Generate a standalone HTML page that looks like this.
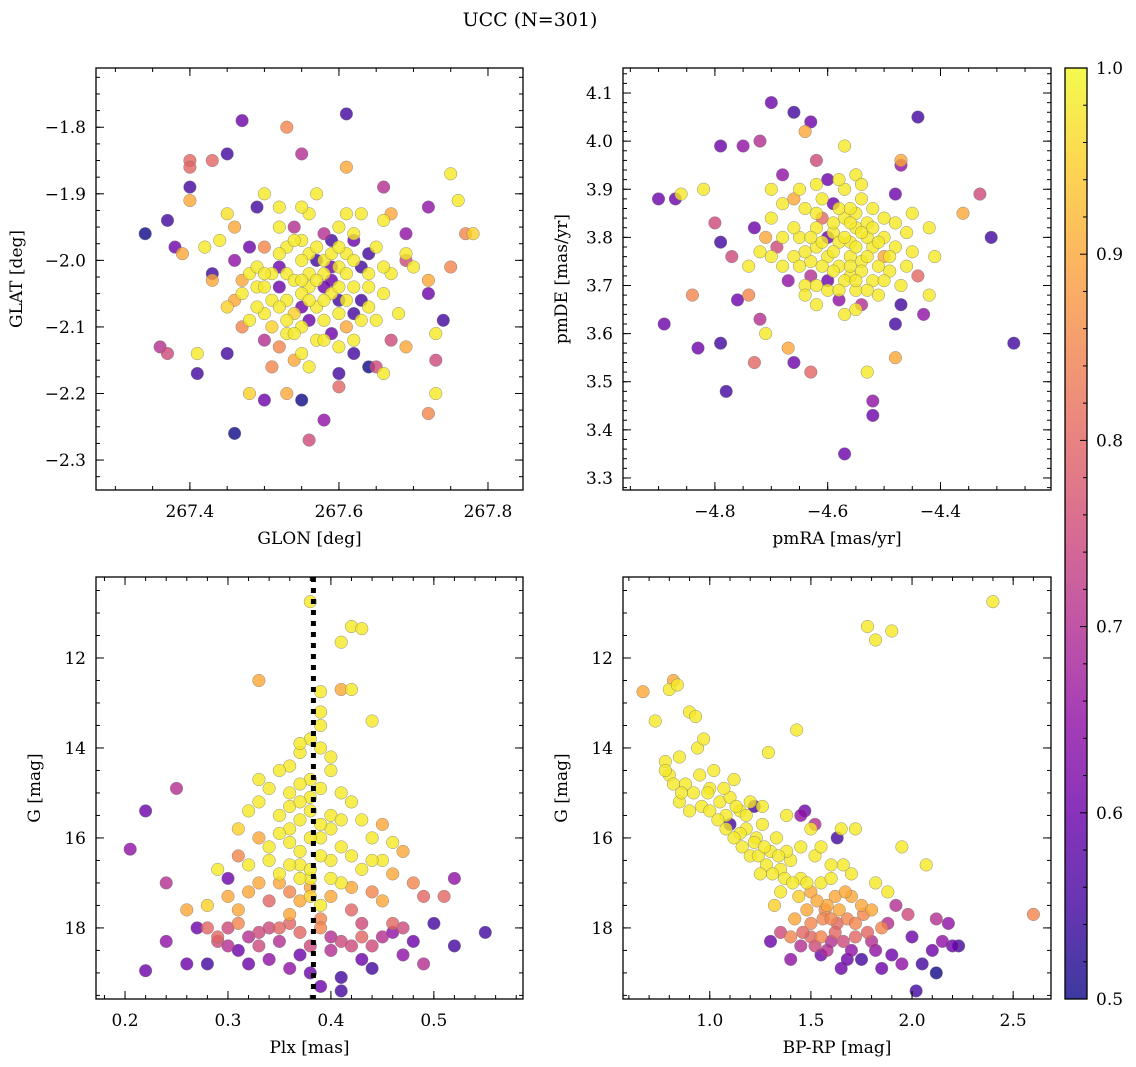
<!DOCTYPE html>
<html><head><meta charset="utf-8"><style>
html,body{margin:0;padding:0;background:#fff}
svg{display:block;font-family:"DejaVu Serif","Liberation Serif",serif}
</style></head><body>
<svg id="fig" width="1136" height="1067" viewBox="0 0 1136 1067" xmlns="http://www.w3.org/2000/svg">
<defs><linearGradient id="cbg" x1="0" y1="1" x2="0" y2="0"></linearGradient></defs>
<text x="530" y="26" font-size="19" text-anchor="middle">UCC (N=301)</text>
</svg>
<script>
// ---- data: [x, y, probability] ----
const glonGlat = [[267.34,-1.96,0.5],[267.37,-1.94,0.55],[267.36,-2.13,0.7],[267.37,-2.14,0.75],[267.40,-1.85,0.8],[267.40,-1.86,0.8],[267.40,-1.89,0.55],[267.40,-1.91,0.9],[267.43,-1.85,0.8],[267.45,-1.84,0.55],[267.47,-1.79,0.6],[267.41,-2.17,0.55],[267.41,-2.14,0.98],[267.45,-2.14,0.55],[267.46,-2.26,0.5],[267.48,-2.20,0.95],[267.50,-2.21,0.6],[267.53,-1.80,0.85],[267.55,-1.84,0.7],[267.61,-1.78,0.55],[267.61,-1.86,0.9],[267.55,-2.21,0.5],[267.53,-2.20,0.9],[267.56,-2.27,0.75],[267.58,-2.24,0.65],[267.60,-2.19,0.8],[267.66,-1.89,0.7],[267.72,-1.92,0.65],[267.75,-1.87,0.98],[267.76,-1.91,0.98],[267.78,-1.96,0.95],[267.77,-1.96,0.85],[267.72,-2.03,0.9],[267.72,-2.05,0.6],[267.75,-2.01,0.85],[267.74,-2.09,0.55],[267.73,-2.11,0.98],[267.73,-2.15,0.75],[267.72,-2.23,0.85],[267.73,-2.20,0.98],[267.69,-1.96,0.65],[267.69,-2.00,0.75],[267.69,-2.13,0.9],[267.64,-2.16,0.5],[267.62,-2.14,0.55],[267.60,-2.17,0.55],[267.65,-2.16,0.75],[267.67,-2.12,0.75],[267.66,-2.17,0.98],
[267.50,-1.90,0.98],[267.52,-1.92,0.98],[267.49,-1.92,0.55],[267.45,-1.93,0.97],[267.46,-1.95,0.9],[267.44,-1.97,0.98],[267.42,-1.98,0.98],[267.39,-1.99,0.9],[267.38,-1.98,0.6],[267.43,-2.02,0.55],[267.43,-2.03,0.9],[267.45,-2.07,0.95],[267.46,-2.06,0.9],[267.47,-2.05,0.98],[267.48,-2.02,0.98],[267.49,-2.04,0.98],[267.50,-2.08,0.98],[267.51,-2.10,0.95],[267.52,-2.01,0.6],[267.53,-1.98,0.98],[267.54,-1.95,0.7],[267.55,-1.97,0.98],[267.56,-1.99,0.98],[267.57,-2.00,0.55],[267.58,-2.02,0.98],[267.59,-2.03,0.6],[267.60,-2.01,0.98],[267.61,-1.99,0.98],[267.62,-2.04,0.98],[267.63,-2.06,0.55],[267.64,-2.02,0.98],[267.65,-1.98,0.98],[267.66,-1.94,0.98],[267.67,-1.93,0.9],[267.63,-1.93,0.98],[267.60,-1.95,0.98],[267.58,-1.96,0.7],[267.56,-2.04,0.98],[267.55,-2.05,0.98],[267.54,-2.08,0.95],[267.53,-2.06,0.98],[267.52,-2.04,0.6],[267.51,-2.02,0.98],[267.57,-2.07,0.98],[267.58,-2.09,0.98],[267.59,-2.11,0.6],[267.60,-2.08,0.98],[267.61,-2.10,0.9],[267.62,-2.12,0.98],[267.57,-2.12,0.98],[267.55,-2.14,0.98],[267.54,-2.15,0.9],[267.52,-2.13,0.85],[267.50,-2.12,0.7],[267.48,-2.09,0.98],[267.47,-2.10,0.85],[267.59,-1.97,0.55],[267.62,-1.97,0.6],[267.65,-2.09,0.98],[267.68,-2.08,0.98],[267.66,-2.05,0.98],[267.67,-2.02,0.98],[267.70,-2.01,0.98],[267.69,-1.99,0.98],[267.64,-1.99,0.55],[267.53,-2.02,0.98],[267.56,-2.02,0.98],[267.59,-2.05,0.98],[267.61,-2.06,0.98],[267.58,-2.00,0.98],[267.55,-2.00,0.98],[267.50,-1.98,0.85],[267.48,-1.98,0.6],[267.46,-2.00,0.65],[267.47,-2.03,0.9],
[267.54,-2.03,0.98],[267.55,-2.03,0.98],[267.57,-2.03,0.98],[267.58,-2.04,0.6],[267.60,-2.04,0.98],[267.61,-2.02,0.98],[267.62,-2.00,0.98],[267.63,-2.01,0.55],[267.64,-2.04,0.98],[267.56,-2.06,0.98],[267.58,-2.06,0.98],[267.60,-2.06,0.55],[267.57,-1.98,0.98],[267.59,-1.99,0.98],[267.60,-1.98,0.98],[267.62,-1.96,0.98],[267.54,-1.97,0.98],[267.52,-1.99,0.98],[267.51,-2.06,0.98],[267.50,-2.04,0.98],[267.49,-2.07,0.98],[267.53,-2.09,0.98],[267.55,-2.10,0.98],[267.56,-2.09,0.6],[267.58,-2.12,0.98],[267.60,-2.13,0.98],[267.63,-2.09,0.98],[267.64,-2.07,0.98],[267.66,-2.01,0.98],[267.61,-1.93,0.98],[267.56,-1.93,0.98],[267.55,-1.92,0.98],[267.57,-1.90,0.98],[267.52,-1.95,0.98],[267.49,-2.01,0.98],[267.50,-2.02,0.98],[267.52,-2.07,0.98],[267.53,-2.11,0.98],[267.56,-2.16,0.98],[267.54,-2.11,0.98],[267.51,-2.16,0.85],[267.62,-2.08,0.55],[267.59,-2.01,0.6],[267.55,-2.07,0.6]];
const pmraPmde = [[-4.90,3.88,0.6],[-4.87,3.88,0.6],[-4.86,3.89,0.98],[-4.82,3.90,0.98],[-4.79,3.99,0.6],[-4.75,3.99,0.65],[-4.72,4.00,0.7],[-4.70,4.08,0.6],[-4.66,4.06,0.55],[-4.63,4.04,0.6],[-4.64,4.02,0.9],[-4.62,3.96,0.75],[-4.57,3.99,0.98],[-4.44,4.05,0.55],[-4.47,3.96,0.9],[-4.47,3.95,0.65],[-4.33,3.89,0.75],[-4.36,3.85,0.9],[-4.31,3.80,0.55],[-4.27,3.58,0.55],[-4.42,3.68,0.98],[-4.43,3.64,0.65],[-4.48,3.55,0.9],[-4.48,3.62,0.55],[-4.47,3.66,0.55],[-4.53,3.52,0.98],[-4.52,3.46,0.65],[-4.52,3.43,0.6],[-4.57,3.35,0.6],[-4.66,3.54,0.6],[-4.63,3.52,0.8],[-4.67,3.57,0.9],[-4.71,3.60,0.98],[-4.73,3.54,0.8],[-4.78,3.48,0.55],[-4.79,3.58,0.55],[-4.83,3.57,0.6],[-4.89,3.62,0.6],[-4.84,3.68,0.85],[-4.76,3.67,0.6],[-4.74,3.68,0.85],[-4.72,3.63,0.7],[-4.79,3.79,0.55],[-4.80,3.83,0.75],[-4.77,3.76,0.75],[-4.73,3.82,0.6],[-4.71,3.80,0.9],[-4.70,3.90,0.98],[-4.68,3.93,0.65],[-4.66,3.88,0.9],[-4.60,3.92,0.6],[-4.55,3.93,0.98],[-4.48,3.89,0.6],[-4.45,3.85,0.98],[-4.42,3.82,0.98],[-4.41,3.76,0.98],[-4.44,3.72,0.8],[-4.46,3.74,0.98],
[-4.65,3.80,0.98],[-4.62,3.78,0.98],[-4.60,3.76,0.98],[-4.58,3.74,0.98],[-4.56,3.72,0.98],[-4.54,3.75,0.98],[-4.52,3.78,0.98],[-4.50,3.80,0.98],[-4.55,3.82,0.98],[-4.57,3.84,0.98],[-4.59,3.81,0.98],[-4.61,3.74,0.98],[-4.63,3.72,0.7],[-4.64,3.70,0.98],[-4.60,3.69,0.98],[-4.58,3.67,0.65],[-4.55,3.69,0.98],[-4.52,3.71,0.98],[-4.49,3.73,0.98],[-4.50,3.76,0.9],[-4.53,3.83,0.98],[-4.55,3.85,0.98],[-4.58,3.86,0.98],[-4.61,3.84,0.8],[-4.66,3.76,0.98],[-4.68,3.74,0.98],[-4.69,3.78,0.75],[-4.67,3.71,0.65],[-4.62,3.66,0.98],[-4.57,3.64,0.98],[-4.54,3.66,0.7],[-4.51,3.68,0.98],[-4.47,3.70,0.98],[-4.48,3.78,0.98],[-4.46,3.81,0.98],[-4.54,3.88,0.98],[-4.57,3.90,0.98],[-4.61,3.88,0.98],[-4.64,3.86,0.98],[-4.70,3.84,0.98],[-4.72,3.77,0.98],[-4.74,3.74,0.98],[-4.58,3.79,0.98],[-4.56,3.79,0.98],[-4.53,3.80,0.98],[-4.60,3.71,0.6],[-4.63,3.75,0.98],[-4.56,3.76,0.98],
[-4.57,3.80,0.98],[-4.55,3.78,0.98],[-4.53,3.76,0.98],[-4.51,3.74,0.98],[-4.59,3.77,0.98],[-4.61,3.79,0.98],[-4.56,3.74,0.98],[-4.54,3.73,0.98],[-4.57,3.71,0.98],[-4.59,3.73,0.98],[-4.52,3.82,0.98],[-4.54,3.81,0.98],[-4.56,3.83,0.98],[-4.59,3.83,0.98],[-4.60,3.80,0.6],[-4.62,3.82,0.98],[-4.63,3.80,0.98],[-4.64,3.77,0.98],[-4.65,3.74,0.98],[-4.62,3.70,0.98],[-4.55,3.71,0.98],[-4.53,3.69,0.98],[-4.50,3.71,0.98],[-4.49,3.76,0.98],[-4.51,3.79,0.98],[-4.56,3.86,0.98],[-4.59,3.87,0.6],[-4.52,3.86,0.98],[-4.50,3.84,0.98],[-4.66,3.82,0.98],[-4.68,3.80,0.98],[-4.70,3.76,0.98],[-4.62,3.85,0.98],[-4.58,3.69,0.98],[-4.64,3.68,0.98],[-4.55,3.65,0.98],[-4.48,3.83,0.98],[-4.45,3.77,0.98],[-4.58,3.92,0.98],[-4.65,3.90,0.98],[-4.68,3.87,0.98],[-4.62,3.91,0.98],[-4.54,3.91,0.98]];
const plxG = [[0.38,10.75,0.98],[0.42,11.3,0.98],[0.43,11.35,0.98],[0.41,11.65,0.98],[0.33,12.5,0.9],[0.41,12.7,0.9],[0.42,12.7,0.98],[0.39,12.75,0.98],[0.39,13.2,0.98],[0.44,13.4,0.98],[0.39,13.5,0.98],[0.38,13.8,0.98],[0.37,14.1,0.98],[0.39,14.0,0.98],[0.36,14.4,0.98],[0.35,14.5,0.98],[0.40,14.5,0.98],[0.33,14.7,0.98],[0.34,14.9,0.98],[0.36,15.0,0.98],[0.38,15.1,0.98],[0.41,15.0,0.98],[0.42,15.2,0.98],[0.32,15.4,0.98],[0.35,15.5,0.98],[0.37,15.6,0.98],[0.40,15.5,0.98],[0.43,15.6,0.98],[0.45,15.7,0.9],[0.31,15.8,0.95],[0.33,16.0,0.9],[0.36,16.1,0.98],[0.39,16.0,0.98],[0.41,16.2,0.98],[0.44,16.0,0.98],[0.47,16.3,0.9],[0.29,16.7,0.98],[0.31,16.4,0.85],[0.34,16.5,0.98],[0.37,16.6,0.98],[0.40,16.5,0.98],[0.43,16.7,0.98],[0.45,16.5,0.98],[0.46,16.8,0.9],[0.30,16.9,0.6],[0.32,17.2,0.9],[0.35,17.0,0.9],[0.38,17.3,0.95],[0.41,17.0,0.98],[0.44,17.2,0.85],[0.48,17.0,0.85],[0.28,17.5,0.95],[0.31,17.6,0.9],[0.34,17.4,0.8],[0.36,17.7,0.9],[0.39,17.5,0.98],[0.42,17.6,0.8],[0.45,17.4,0.9],[0.49,17.3,0.8],[0.51,17.3,0.8],[0.26,17.6,0.9],[0.24,17.0,0.7],[0.25,14.9,0.7],[0.22,15.4,0.6],[0.205,16.25,0.65],[0.27,18.0,0.6],[0.29,18.2,0.8],[0.31,18.5,0.6],[0.33,18.1,0.75],[0.35,18.3,0.7],[0.37,18.6,0.6],[0.40,18.2,0.7],[0.42,18.4,0.75],[0.44,18.9,0.55],[0.46,18.1,0.65],[0.48,18.3,0.6],[0.50,17.9,0.55],[0.52,18.4,0.55],[0.55,18.1,0.55],[0.52,16.9,0.65],[0.22,18.95,0.6],[0.24,18.3,0.65],[0.26,18.8,0.6],[0.28,18.8,0.55],[0.30,18.4,0.7],[0.32,18.8,0.6],[0.36,18.9,0.65],[0.38,19.0,0.6],[0.39,19.3,0.6],[0.41,19.4,0.55],[0.41,19.1,0.55],[0.43,18.7,0.6],[0.45,18.2,0.7],[0.47,18.6,0.65],[0.49,18.8,0.7],[0.34,18.7,0.65],[0.30,18.0,0.75],[0.36,17.9,0.8],[0.39,17.8,0.85],[0.43,17.9,0.75],[0.38,16.9,0.98],[0.37,16.3,0.98],[0.40,15.8,0.98],[0.38,14.7,0.98],[0.36,15.3,0.98],
[0.37,14.8,0.98],[0.39,14.9,0.98],[0.38,15.4,0.98],[0.37,15.2,0.98],[0.39,15.7,0.98],[0.36,15.8,0.98],[0.38,16.0,0.98],[0.37,16.9,0.98],[0.39,16.4,0.98],[0.36,16.6,0.98],[0.38,16.7,0.98],[0.40,16.9,0.98],[0.35,16.8,0.98],[0.34,16.2,0.98],[0.42,16.4,0.98],[0.41,15.6,0.98],[0.35,15.9,0.98],[0.33,15.2,0.98],[0.40,14.2,0.98],[0.37,13.9,0.98],[0.38,17.1,0.9],[0.37,17.4,0.9],[0.36,17.2,0.85],[0.40,17.3,0.9],[0.42,17.1,0.9],[0.33,17.0,0.9],[0.39,18.0,0.85],[0.37,18.1,0.8],[0.40,18.5,0.7],[0.35,18.0,0.8],[0.33,18.4,0.75],[0.32,18.2,0.7],[0.29,18.3,0.75],[0.28,18.0,0.8],[0.41,18.3,0.75],[0.43,18.2,0.8],[0.44,18.4,0.75],[0.38,18.4,0.75],[0.34,18.0,0.75],[0.31,17.9,0.85],[0.46,17.9,0.8],[0.47,18.0,0.75],[0.30,17.3,0.9],[0.44,16.5,0.98],[0.46,16.1,0.98],[0.32,16.6,0.98]];
const bprpG = [[0.67,12.75,0.9],[0.80,12.7,0.98],[0.82,12.5,0.9],[0.84,12.6,0.98],[0.73,13.4,0.98],[0.78,14.3,0.98],[0.80,14.6,0.98],[0.85,14.2,0.98],[0.88,14.8,0.98],[0.90,13.2,0.98],[0.93,13.3,0.98],[0.94,14.0,0.98],[0.97,13.8,0.98],[1.0,14.9,0.98],[1.02,14.5,0.98],[1.05,15.2,0.98],[1.08,15.5,0.98],[1.10,15.1,0.98],[1.12,14.7,0.98],[1.15,15.4,0.98],[1.18,15.8,0.98],[1.20,15.2,0.98],[1.23,16.0,0.98],[1.26,15.7,0.98],[1.29,14.1,0.98],[1.30,16.3,0.98],[1.33,16.0,0.98],[1.35,16.7,0.98],[1.38,15.5,0.98],[1.40,16.5,0.98],[1.43,13.6,0.98],[1.45,16.9,0.98],[1.47,15.4,0.6],[1.50,17.2,0.9],[1.52,16.4,0.98],[1.55,17.0,0.98],[1.57,17.6,0.85],[1.60,16.6,0.98],[1.62,17.3,0.9],[1.65,15.8,0.98],[1.68,17.8,0.85],[1.70,16.8,0.98],[1.72,15.8,0.98],[1.75,17.5,0.9],[1.78,11.3,0.98],[1.82,11.6,0.98],[1.90,11.4,0.98],[2.40,10.75,0.98],[1.82,17.0,0.98],[1.85,18.0,0.85],[1.88,17.2,0.98],[1.95,16.2,0.98],[2.07,16.6,0.98],[2.60,17.7,0.85],[1.30,18.3,0.6],[1.35,18.1,0.75],[1.40,18.7,0.65],[1.45,18.4,0.7],[1.50,18.2,0.8],[1.55,18.6,0.6],[1.60,18.3,0.7],[1.65,18.9,0.6],[1.70,18.5,0.65],[1.75,18.7,0.55],[1.80,18.3,0.7],[1.85,18.9,0.6],[1.90,18.6,0.6],[1.95,18.8,0.65],[2.00,18.2,0.6],[2.02,19.4,0.55],[2.05,18.8,0.55],[2.10,18.5,0.6],[2.12,19.0,0.5],[2.15,18.3,0.65],[2.20,18.4,0.6],[2.23,18.4,0.55],[2.18,17.9,0.65],[2.12,17.8,0.7],[1.98,17.7,0.75],[1.92,17.5,0.7],[1.88,17.9,0.7],[1.63,16.0,0.55],[1.52,15.7,0.7],[1.45,15.5,0.65],[1.22,15.3,0.55],[1.10,15.7,0.55],[1.35,17.2,0.98],[1.42,17.8,0.9],[1.50,17.9,0.85],[1.58,17.5,0.9],[1.63,17.9,0.8],[1.70,17.3,0.9],[1.78,18.1,0.8],[1.28,16.6,0.98],[1.20,16.4,0.98],[1.15,15.9,0.98],[0.95,14.6,0.98],[0.85,15.2,0.98],[0.90,15.4,0.98],[1.25,16.8,0.98],[1.32,17.5,0.95],[1.38,16.3,0.98],
[0.78,14.5,0.98],[0.82,14.8,0.98],[0.86,15.0,0.98],[0.92,15.0,0.98],[0.96,15.3,0.98],[1.00,15.4,0.98],[1.04,15.6,0.98],[1.08,15.8,0.98],[1.12,16.0,0.98],[1.16,16.2,0.98],[1.18,15.5,0.98],[1.22,16.1,0.98],[1.24,16.4,0.98],[1.27,16.2,0.98],[1.31,16.8,0.98],[1.34,16.4,0.98],[1.37,16.9,0.98],[1.41,17.0,0.98],[1.44,17.3,0.95],[1.48,17.0,0.98],[1.48,17.6,0.9],[1.53,17.4,0.9],[1.56,17.8,0.85],[1.60,17.8,0.85],[1.64,17.6,0.9],[1.67,17.2,0.9],[1.72,17.9,0.85],[1.76,17.7,0.85],[1.80,17.6,0.9],[1.55,18.2,0.85],[1.62,18.1,0.8],[1.66,18.3,0.75],[1.72,18.2,0.8],[1.58,18.5,0.7],[1.68,18.7,0.6],[1.82,18.5,0.65],[1.52,18.4,0.75],[1.46,18.1,0.8],[1.40,18.2,0.85],[1.13,15.3,0.98],[1.07,14.9,0.98],[0.99,15.0,0.98],[1.26,15.3,0.98],[1.45,16.2,0.98],[1.55,16.2,0.98],[1.50,15.8,0.98],[1.60,16.9,0.98],[1.66,16.6,0.98]];
const plxLine = 0.383;
const xTicks1 = [267.4,267.6,267.8], yTicks1 = [-1.8,-1.9,-2.0,-2.1,-2.2,-2.3];
const xTicks2 = [-4.8,-4.6,-4.4], yTicks2 = [4.1,4.0,3.9,3.8,3.7,3.6,3.5,3.4,3.3];
const xTicks3 = [0.2,0.3,0.4,0.5], yTicks3 = [12,14,16,18];
const xTicks4 = [1.0,1.5,2.0,2.5], yTicks4 = [12,14,16,18];
const cbTicks = [0.5,0.6,0.7,0.8,0.9,1.0];

const NS = "http://www.w3.org/2000/svg";
const svg = document.getElementById('fig');
function mk(tag, attrs, parent){const e=document.createElementNS(NS,tag);for(const k in attrs)e.setAttribute(k,attrs[k]);(parent||svg).appendChild(e);return e;}
const plasma=[[13,8,135],[65,4,157],[106,0,168],[143,13,164],[177,42,144],[204,71,120],[225,100,98],[242,132,75],[252,166,54],[252,206,37],[240,249,33]];
function cmap(p){let t=(p-0.5)/0.5;t=Math.max(0,Math.min(1,t));const f=t*10,i=Math.min(9,Math.floor(f)),u=f-i;const a=plasma[i],b=plasma[i+1];return `rgb(${Math.round(a[0]+(b[0]-a[0])*u)},${Math.round(a[1]+(b[1]-a[1])*u)},${Math.round(a[2]+(b[2]-a[2])*u)})`;}
function fmt(v,d){return (v<0?'\u2212':'')+Math.abs(v).toFixed(d);}

const FS=17;
const panels=[
 {name:'glon-glat',data:glonGlat,x0:96,x1:523,y0:68,y1:490,xd:[267.274,267.847],yd:[-1.711,-2.345],xt:xTicks1,yt:yTicks1,xm:0.05,ym:0.025,xdec:1,ydec:1,xl:'GLON [deg]',yl:'GLAT [deg]',ylx:22},
 {name:'pmra-pmde',data:pmraPmde,x0:623,x1:1051,y0:68,y1:490,xd:[-4.963,-4.204],yd:[4.152,3.275],xt:xTicks2,yt:yTicks2,xm:0.05,ym:0.02,xdec:1,ydec:1,xl:'pmRA [mas/yr]',yl:'pmDE [mas/yr]',ylx:567},
 {name:'plx-g',data:plxG,x0:96,x1:523,y0:577,y1:999,xd:[0.1718,0.5866],yd:[10.2,19.58],xt:xTicks3,yt:yTicks3,xm:0.02,ym:0.5,xdec:1,ydec:0,xl:'Plx [mas]',yl:'G [mag]',ylx:40},
 {name:'bprp-g',data:bprpG,x0:623,x1:1051,y0:577,y1:999,xd:[0.571,2.687],yd:[10.2,19.58],xt:xTicks4,yt:yTicks4,xm:0.1,ym:0.5,xdec:1,ydec:0,xl:'BP-RP [mag]',yl:'G [mag]',ylx:567}
];
panels.forEach(P=>{
 const sx=v=>P.x0+(v-P.xd[0])/(P.xd[1]-P.xd[0])*(P.x1-P.x0);
 const sy=v=>P.y0+(v-P.yd[0])/(P.yd[1]-P.yd[0])*(P.y1-P.y0);
 const g=mk('g',{});
 
 
 const cp='cp-'+P.name;
 const c=mk('clipPath',{id:cp},g);mk('rect',{x:P.x0,y:P.y0,width:P.x1-P.x0,height:P.y1-P.y0},c);
 const pts=mk('g',{'clip-path':`url(#${cp})`},g);
 
 
 const sorted=P.data.slice().sort((a,b)=>a[2]-b[2]);
 sorted.forEach(d=>{
  const e=mk('circle',{cx:sx(d[0]).toFixed(1),cy:sy(d[1]).toFixed(1),r:6.3,fill:cmap(d[2]),'fill-opacity':0.8,stroke:'#777','stroke-width':0.5,'stroke-opacity':0.8},pts);
  
  
 });
 if(P.name==='plx-g'){
  const l=mk('line',{x1:sx(plxLine),x2:sx(plxLine),y1:P.y0,y2:P.y1,stroke:'#000','stroke-width':5,'stroke-dasharray':'5 6'},pts);
  
  
 }
 const tk=mk('g',{stroke:'#000','stroke-width':1},g);
 
 
 const xs=Math.ceil(Math.min(...P.xd)/P.xm), xe=Math.floor(Math.max(...P.xd)/P.xm);
 for(let i=xs;i<=xe;i++){const x=sx(i*P.xm);mk('line',{x1:x,x2:x,y1:P.y1,y2:P.y1-4},tk);mk('line',{x1:x,x2:x,y1:P.y0,y2:P.y0+4},tk);}
 const ys=Math.ceil(Math.min(...P.yd)/P.ym), ye=Math.floor(Math.max(...P.yd)/P.ym);
 for(let i=ys;i<=ye;i++){const y=sy(i*P.ym);mk('line',{x1:P.x0,x2:P.x0+4,y1:y,y2:y},tk);mk('line',{x1:P.x1,x2:P.x1-4,y1:y,y2:y},tk);}
 P.xt.forEach(v=>{const x=sx(v);mk('line',{x1:x,x2:x,y1:P.y1,y2:P.y1-8},tk);mk('line',{x1:x,x2:x,y1:P.y0,y2:P.y0+8},tk);
  const t=mk('text',{x:x,y:P.y1+27,'font-size':FS,'text-anchor':'middle'},g);t.textContent=fmt(v,P.xdec);
  
  });
 P.yt.forEach(v=>{const y=sy(v);mk('line',{x1:P.x0,x2:P.x0+8,y1:y,y2:y},tk);mk('line',{x1:P.x1,x2:P.x1-8,y1:y,y2:y},tk);
  const t=mk('text',{x:P.x0-10,y:y+6,'font-size':FS,'text-anchor':'end'},g);t.textContent=fmt(v,P.ydec);
  
  });
 const fr=mk('rect',{x:P.x0,y:P.y0,width:P.x1-P.x0,height:P.y1-P.y0,fill:'none',stroke:'#000','stroke-width':1.3},g);
 
 
 const xl=mk('text',{x:(P.x0+P.x1)/2,y:P.y1+54,'font-size':FS,'text-anchor':'middle'},g);xl.textContent=P.xl;
 
 
 const yc=(P.y0+P.y1)/2;
 const yl=mk('text',{x:P.ylx,y:yc,'font-size':FS,'text-anchor':'middle',transform:`rotate(-90 ${P.ylx} ${yc})`},g);yl.textContent=P.yl;
 
 
});
const cb={x0:1065,x1:1087,y0:68,y1:999};
const grad=document.getElementById('cbg');
for(let i=0;i<=20;i++){mk('stop',{offset:i/20,'stop-color':cmap(0.5+i/40),'stop-opacity':0.8},grad);}
const cbg=mk('g',{});


mk('rect',{x:cb.x0,y:cb.y0,width:cb.x1-cb.x0,height:cb.y1-cb.y0,fill:'url(#cbg)',stroke:'#000','stroke-width':1.3},cbg);
const cy=v=>cb.y1-(v-0.5)/0.5*(cb.y1-cb.y0);
for(let i=25;i<=50;i++){const y=cy(i/50);mk('line',{x1:cb.x1,x2:cb.x1-(i%5===0?7:4),y1:y,y2:y,stroke:'#000','stroke-width':1},cbg);}
cbTicks.forEach(v=>{const t=mk('text',{x:cb.x1+9,y:cy(v)+6,'font-size':FS,},cbg);t.textContent=v.toFixed(1);
 
 });
</script>
</body></html>
